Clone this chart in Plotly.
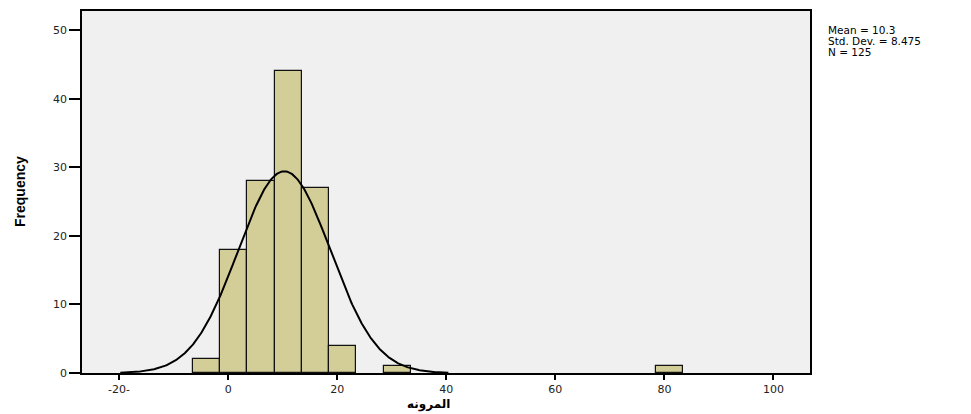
import numpy as np
import plotly.graph_objects as go

# Histogram of المرونه: bin centres (width 5) and counts
bin_centers = [-4, 1, 6, 11, 16, 21, 31, 81]
counts = [2, 18, 28, 44, 27, 4, 1, 1]
bin_width = 5

# Summary statistics for the fitted normal curve
mean = 10.3
std_dev = 8.475
n_total = 125

x_tick_vals = [-20, 0, 20, 40, 60, 80, 100]
x_tick_text = ["-20-", "0", "20", "40", "60", "80", "100"]
y_tick_vals = [0, 10, 20, 30, 40, 50]

W, H = 971, 414
L, R, T, B = 82, 161, 9, 41
plot_w = W - L - R
plot_h = H - T - B

fig = go.Figure()

fig.add_trace(go.Bar(
    x=bin_centers, y=counts, width=bin_width,
    marker=dict(color="#d3ce98", line=dict(color="#111111", width=1.2)),
    showlegend=False, hoverinfo="x+y",
))

# Normal curve scaled to counts
xc = np.linspace(mean - 3.55 * std_dev, mean + 3.55 * std_dev, 400)
yc = n_total * bin_width / (std_dev * np.sqrt(2 * np.pi)) * np.exp(-0.5 * ((xc - mean) / std_dev) ** 2)
fig.add_trace(go.Scatter(
    x=xc, y=yc, mode="lines",
    line=dict(color="black", width=2), showlegend=False, hoverinfo="skip",
))

tick_font = dict(family="DejaVu Sans", size=11, color="#222222")

fig.update_layout(
    width=W, height=H,
    margin=dict(l=L, r=R, t=T, b=B),
    paper_bgcolor="white",
    plot_bgcolor="#f0f0f0",
    bargap=0,
    xaxis=dict(
        range=[-26.8, 106.7],
        tickmode="array", tickvals=x_tick_vals, ticktext=x_tick_text,
        ticks="outside", ticklen=5, tickwidth=1.5, tickcolor="black",
        showline=True, linecolor="black", linewidth=1.5, mirror=True,
        showgrid=False, zeroline=False, tickfont=tick_font,
    ),
    yaxis=dict(
        range=[0, 52.8],
        tickmode="array", tickvals=y_tick_vals,
        ticks="outside", ticklen=11, tickwidth=1.5, tickcolor="black",
        showline=True, linecolor="black", linewidth=1.5, mirror=True,
        showgrid=False, zeroline=False, tickfont=tick_font,
    ),
)

# Axis titles
fig.add_annotation(
    text="<b>Frequency</b>", textangle=-90,
    xref="paper", yref="paper",
    x=(20 - L) / plot_w, y=0.5, xanchor="center", yanchor="middle",
    showarrow=False,
    font=dict(family="Liberation Sans", size=14, color="black"),
)
fig.add_annotation(
    text="<b>المرونه</b>",
    xref="paper", yref="paper",
    x=(428 - L) / plot_w, y=(H - B - 405) / plot_h, xanchor="center", yanchor="middle",
    showarrow=False,
    font=dict(family="DejaVu Sans", size=12, color="black"),
)

# Summary statistics box
stats_lines = [f"Mean = {mean}", f"Std. Dev. = {std_dev}", f"N = {n_total}"]
stats_y = [28.5, 39.5, 50.5]
for line, ypx in zip(stats_lines, stats_y):
    fig.add_annotation(
        text=line, xref="paper", yref="paper",
        x=(826 - L) / plot_w, y=(H - B - ypx) / plot_h,
        xanchor="left", yanchor="middle", showarrow=False,
        font=dict(family="DejaVu Sans", size=10.5, color="black"),
    )

fig.write_html("out.html")
